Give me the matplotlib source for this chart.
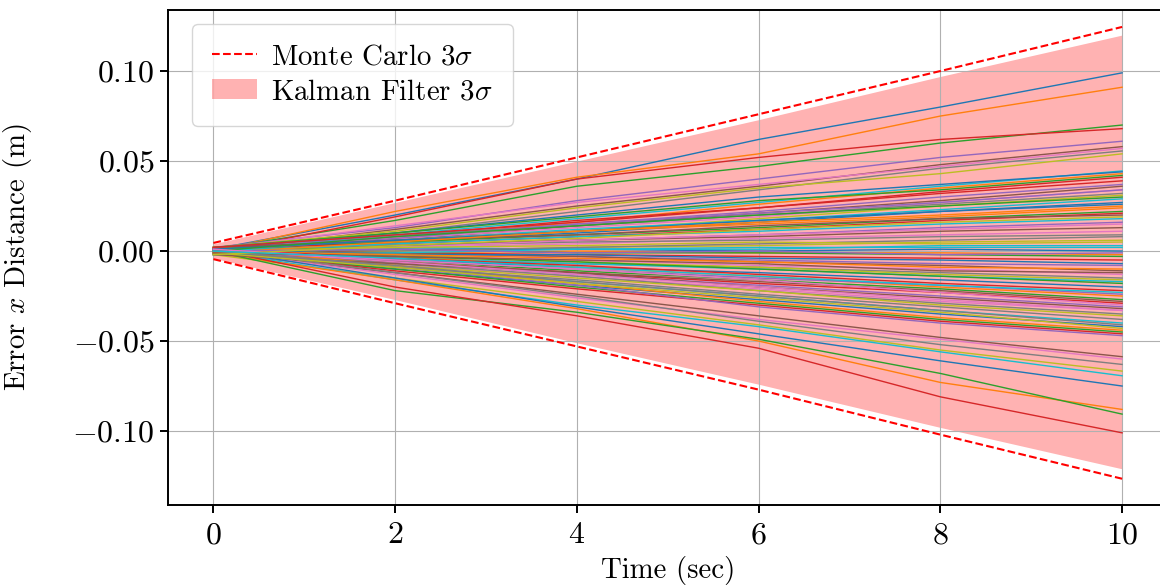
import matplotlib
matplotlib.use('Agg')
import matplotlib.pyplot as plt
from matplotlib.patches import Patch
from matplotlib.lines import Line2D

# ---------------- data ----------------
t_bound = [0, 2, 4, 6, 8, 10]
mc_upper = [0.0045, 0.028, 0.052, 0.076, 0.100, 0.1245]
mc_lower = [-0.0045, -0.029, -0.053, -0.077, -0.102, -0.1265]
kf_upper = [0.004, 0.027, 0.050, 0.073, 0.097, 0.120]
kf_lower = [-0.004, -0.027, -0.051, -0.074, -0.098, -0.121]

t_run = [0, 2, 4, 6, 8, 10]
runs = [
    [0.001, 0.020, 0.040, 0.062, 0.080, 0.099],
    [0.000, 0.022, 0.041, 0.054, 0.075, 0.091],
    [0.001, 0.017, 0.036, 0.047, 0.060, 0.070],
    [-0.001, 0.019, 0.040, 0.052, 0.062, 0.068],
    [0.002, 0.013, 0.028, 0.040, 0.052, 0.061],
    [0.000, 0.012, 0.025, 0.036, 0.048, 0.058],
    [0.001, 0.014, 0.027, 0.037, 0.047, 0.057],
    [-0.001, 0.010, 0.022, 0.034, 0.046, 0.0556],
    [0.002, 0.011, 0.024, 0.035, 0.043, 0.054],
    [0.000, 0.009, 0.018, 0.027, 0.036, 0.0445],
    [0.001, 0.010, 0.020, 0.030, 0.037, 0.044],
    [-0.002, 0.007, 0.016, 0.026, 0.035, 0.043],
    [0.002, 0.010, 0.019, 0.028, 0.034, 0.042],
    [0.000, 0.008, 0.017, 0.024, 0.033, 0.041],
    [0.001, 0.008, 0.015, 0.022, 0.030, 0.037],
    [-0.001, 0.006, 0.014, 0.021, 0.028, 0.036],
    [0.000, 0.007, 0.013, 0.019, 0.027, 0.034],
    [0.002, 0.009, 0.014, 0.020, 0.026, 0.032],
    [-0.002, 0.004, 0.011, 0.018, 0.025, 0.031],
    [0.001, 0.006, 0.012, 0.017, 0.023, 0.029],
    [0.000, 0.005, 0.010, 0.016, 0.022, 0.027],
    [-0.001, 0.006, 0.011, 0.015, 0.019, 0.024],
    [0.001, 0.005, 0.009, 0.013, 0.018, 0.022],
    [0.002, 0.004, 0.008, 0.012, 0.017, 0.021],
    [0.000, 0.003, 0.006, 0.009, 0.013, 0.016],
    [-0.001, 0.003, 0.006, 0.008, 0.011, 0.013],
    [0.001, 0.002, 0.004, 0.007, 0.009, 0.011],
    [0.000, 0.003, 0.005, 0.006, 0.008, 0.009],
    [-0.002, 0.000, 0.002, 0.003, 0.005, 0.006],
    [0.001, 0.002, 0.001, 0.002, 0.002, 0.002],
    [0.000, 0.001, 0.001, 0.000, 0.001, 0.000],
    [-0.001, -0.001, 0.000, -0.001, -0.001, -0.002],
    [0.002, 0.001, -0.001, -0.001, -0.002, -0.003],
    [0.000, -0.001, -0.002, -0.003, -0.004, -0.005],
    [-0.001, -0.002, -0.003, -0.005, -0.007, -0.008],
    [0.001, -0.001, -0.003, -0.006, -0.008, -0.011],
    [0.000, -0.003, -0.005, -0.008, -0.010, -0.013],
    [-0.002, -0.004, -0.007, -0.009, -0.012, -0.015],
    [0.001, -0.002, -0.006, -0.009, -0.013, -0.016],
    [0.000, -0.004, -0.007, -0.010, -0.014, -0.017],
    [-0.001, -0.005, -0.009, -0.012, -0.016, -0.020],
    [0.002, -0.003, -0.009, -0.014, -0.020, -0.025],
    [0.000, -0.005, -0.011, -0.016, -0.021, -0.027],
    [-0.001, -0.006, -0.012, -0.018, -0.023, -0.029],
    [0.001, -0.006, -0.013, -0.019, -0.025, -0.031],
    [0.000, -0.006, -0.012, -0.020, -0.026, -0.032],
    [-0.002, -0.008, -0.014, -0.021, -0.028, -0.033],
    [0.001, -0.007, -0.014, -0.022, -0.029, -0.035],
    [0.000, -0.008, -0.015, -0.022, -0.030, -0.036],
    [-0.001, -0.009, -0.017, -0.025, -0.033, -0.040],
    [0.000, -0.010, -0.019, -0.027, -0.035, -0.042],
    [0.002, -0.008, -0.018, -0.028, -0.037, -0.044],
    [-0.001, -0.010, -0.020, -0.029, -0.038, -0.045],
    [0.000, -0.011, -0.021, -0.030, -0.039, -0.046],
    [0.001, -0.009, -0.019, -0.031, -0.040, -0.047],
    [-0.001, -0.012, -0.024, -0.036, -0.048, -0.0587],
    [0.000, -0.013, -0.026, -0.038, -0.049, -0.060],
    [0.001, -0.012, -0.025, -0.039, -0.052, -0.063],
    [-0.002, -0.015, -0.028, -0.041, -0.055, -0.0667],
    [0.000, -0.016, -0.030, -0.042, -0.056, -0.0693],
    [0.001, -0.015, -0.031, -0.046, -0.061, -0.075],
    [-0.001, -0.016, -0.032, -0.050, -0.073, -0.088],
    [0.000, -0.022, -0.034, -0.049, -0.068, -0.0906],
    [0.001, -0.020, -0.036, -0.054, -0.081, -0.101],
    [0.000, 0.007, 0.015, 0.021, 0.027, 0.034],
    [0.002, 0.006, 0.009, 0.014, 0.018, 0.020],
    [-0.001, 0.002, 0.006, 0.009, 0.012, 0.015],
    [0.001, 0.000, 0.002, 0.004, 0.006, 0.008],
    [0.000, 0.002, 0.003, 0.005, 0.004, 0.005],
    [-0.002, -0.001, 0.001, 0.001, 0.003, 0.003],
    [0.001, -0.002, -0.002, -0.004, -0.005, -0.007],
    [0.000, -0.002, -0.004, -0.006, -0.009, -0.010],
    [-0.001, -0.003, -0.006, -0.010, -0.014, -0.018],
    [0.001, -0.004, -0.008, -0.013, -0.018, -0.022],
    [0.000, -0.005, -0.010, -0.015, -0.019, -0.024],
    [-0.002, -0.007, -0.012, -0.017, -0.022, -0.028],
    [0.001, -0.006, -0.013, -0.020, -0.027, -0.033],
    [0.000, -0.009, -0.016, -0.024, -0.031, -0.038],
    [-0.001, -0.009, -0.018, -0.026, -0.034, -0.043],
    [0.000, 0.004, 0.008, 0.011, 0.015, 0.018],
    [0.001, 0.006, 0.011, 0.017, 0.022, 0.026],
    [-0.001, 0.005, 0.011, 0.016, 0.020, 0.025],
    [0.000, 0.008, 0.014, 0.020, 0.025, 0.030],
    [0.002, 0.009, 0.016, 0.024, 0.032, 0.039],
    [0.000, 0.001, -0.001, 0.000, -0.002, -0.001],
    [-0.001, -0.003, -0.005, -0.007, -0.011, -0.012],
    [0.001, -0.005, -0.010, -0.016, -0.023, -0.030],
    [0.000, -0.008, -0.017, -0.025, -0.033, -0.041],
    [-0.002, 0.003, 0.007, 0.012, 0.016, 0.019],
    [0.000, -0.004, -0.009, -0.014, -0.019, -0.023],
]

x_ticks = [0, 2, 4, 6, 8, 10]
y_ticks = [-0.10, -0.05, 0.00, 0.05, 0.10]

# ---------------- style ----------------
plt.rcParams.update({
    'font.family': 'serif',
    'font.serif': ['cmr10'],
    'mathtext.fontset': 'cm',
    'axes.formatter.use_mathtext': True,
    'font.size': 20.8,
})

fig = plt.figure(figsize=(11.6, 5.86), dpi=100)
ax = fig.add_axes([0.1448, 0.1382, 0.8617, 0.8447])

ax.fill_between(t_bound, kf_lower, kf_upper, color='red', alpha=0.3, lw=0, zorder=1)
for r in runs:
    ax.plot(t_run, r, lw=1.0, zorder=2)
ax.plot(t_bound, mc_upper, 'r--', lw=1.5, zorder=3)
ax.plot(t_bound, mc_lower, 'r--', lw=1.5, zorder=3)

ax.set_xlim(-0.5, 10.5)
ax.set_ylim(-0.1411, 0.1339)
ax.set_xticks(x_ticks)
ax.set_yticks(y_ticks)
ax.grid(True, color='#b0b0b0', lw=0.8)
ax.tick_params(length=6, width=1.4, labelsize=23)
ax.tick_params(axis='x', pad=6)
for s in ax.spines.values():
    s.set_linewidth(1.4)

ax.set_xlabel('Time (sec)')
ax.xaxis.set_label_coords(0.5, -0.104)
ax.set_ylabel('Error $x$ Distance (m)')
ax.yaxis.set_label_coords(-0.134, 0.5)

handles = [Line2D([], [], color='red', ls='--', lw=1.5),
           Patch(facecolor='red', alpha=0.3, lw=0)]
labels = ['Monte Carlo $3\\sigma$', 'Kalman Filter $3\\sigma$']
ax.legend(handles, labels, loc='upper left', bbox_to_anchor=(0.024, 0.972),
          borderaxespad=0, handlelength=1.55, handletextpad=0.5,
          borderpad=0.7, labelspacing=0.3, framealpha=0.8)

fig.savefig('out.png', dpi=100)
